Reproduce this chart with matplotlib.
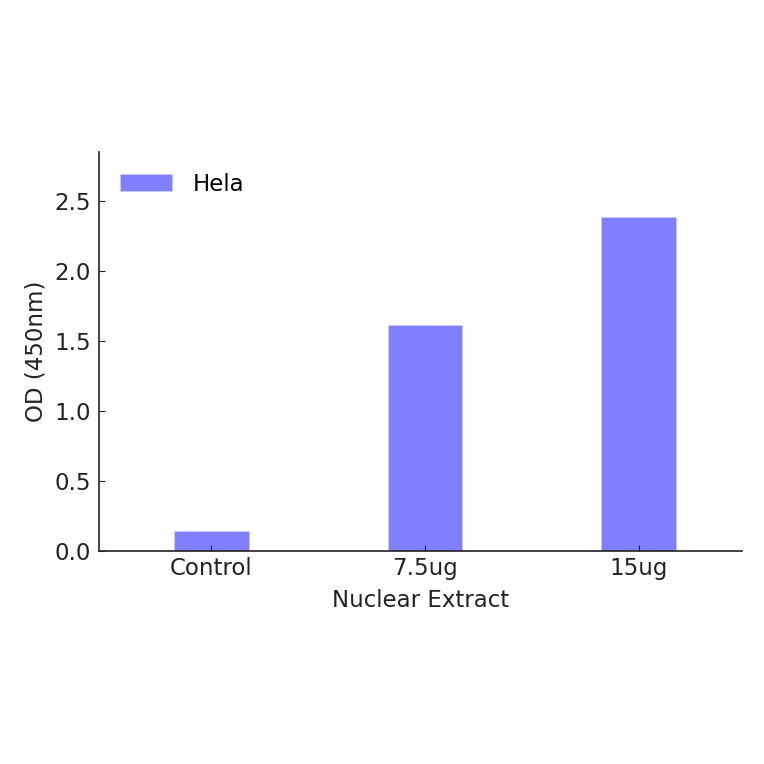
import matplotlib
matplotlib.use('Agg')
import matplotlib.pyplot as plt
import numpy as np

categories = ['Control', '7.5ug', '15ug']
hela = [0.145, 1.614, 2.388]

fig = plt.figure(figsize=(7.64, 7.64), dpi=100)
ax = fig.add_axes([0.1296, 0.2788, 0.842, 0.5222])

x = np.arange(len(categories))
ax.bar(x, hela, width=0.35, color='#8080ff', edgecolor='#ccccff', linewidth=0.5, label='Hela')

ax.set_xlim(-0.525, 2.485)
ax.set_ylim(0, 2.85)
ax.set_xticks(x)
ax.set_xticklabels(categories)
ax.set_yticks([0.0, 0.5, 1.0, 1.5, 2.0, 2.5])
ax.set_yticklabels(['0.0', '0.5', '1.0', '1.5', '2.0', '2.5'])
ax.tick_params(direction='in', length=4, labelsize=16.5, colors='#222222', pad=6)
ax.tick_params(axis='x', top=False, pad=4)
ax.tick_params(axis='y', right=False)
for s in ['top', 'right']:
    ax.spines[s].set_visible(False)
for s in ['left', 'bottom']:
    ax.spines[s].set_color('#222222')
    ax.spines[s].set_linewidth(1.2)

ax.set_xlabel('Nuclear Extract', fontsize=16.5, color='#222222', labelpad=7)
ax.set_ylabel('OD (450nm)', fontsize=16.5, color='#222222', labelpad=5)
ax.legend(loc='upper left', bbox_to_anchor=(0, 1.0), frameon=False, fontsize=16.5,
          handlelength=2.3, handleheight=0.8, handletextpad=0.9)

fig.savefig('out.png', dpi=100)
